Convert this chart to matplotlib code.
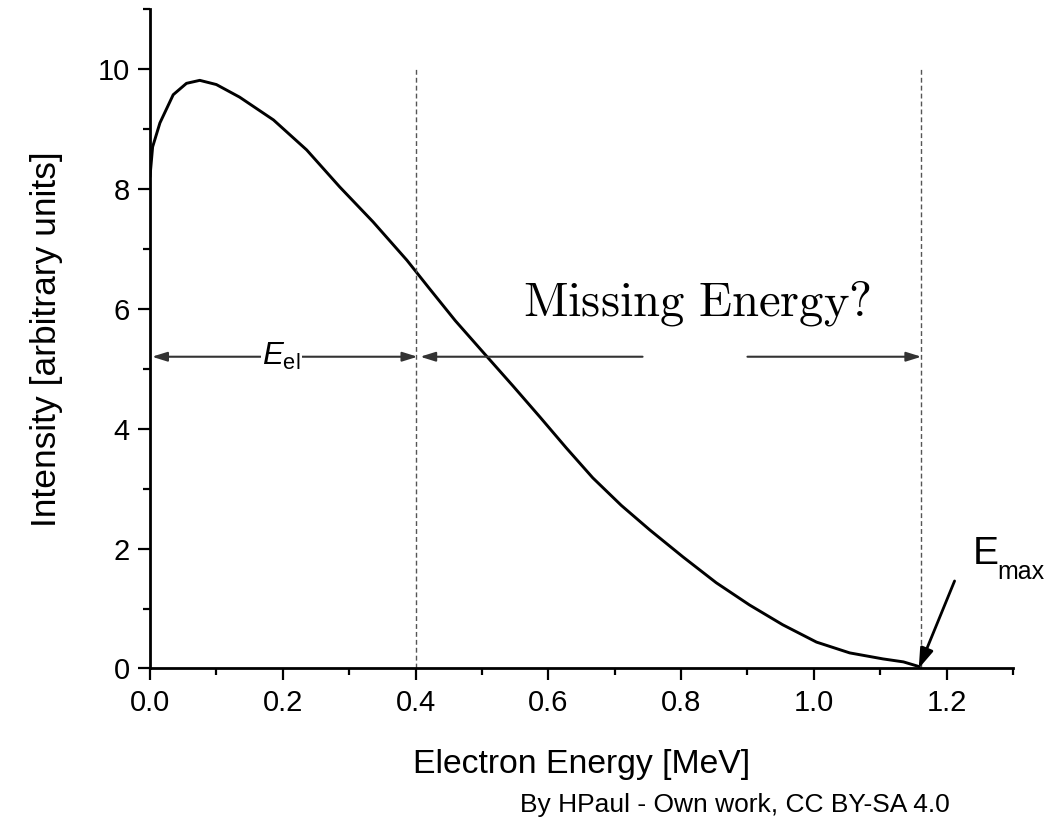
import matplotlib
matplotlib.use("Agg")
from matplotlib import pyplot as plt
from matplotlib.ticker import MultipleLocator
import numpy as np

plt.rcParams['font.family'] = ['Liberation Sans', 'DejaVu Sans']
plt.rcParams['mathtext.fontset'] = 'custom'
plt.rcParams['mathtext.rm'] = 'Liberation Sans'
plt.rcParams['mathtext.it'] = 'Liberation Sans:italic'

# spectrum
energy = [0.0, 0.004, 0.015, 0.035, 0.055, 0.075, 0.1, 0.135, 0.186, 0.236,
          0.286, 0.336, 0.387, 0.42, 0.46, 0.507, 0.547, 0.587, 0.627, 0.667,
          0.71, 0.753, 0.803, 0.853, 0.903, 0.953, 1.004, 1.054, 1.104,
          1.135, 1.159]
intensity = [8.20, 8.70, 9.10, 9.57, 9.76, 9.81, 9.74, 9.53, 9.15, 8.65,
             8.03, 7.45, 6.81, 6.35, 5.80, 5.21, 4.71, 4.20, 3.68, 3.18,
             2.72, 2.31, 1.86, 1.43, 1.06, 0.73, 0.44, 0.26, 0.16,
             0.11, 0.03]

e_el = 0.4
e_max = 1.162
arrow_y = 5.2
gap = [0.742, 0.900]

fig = plt.figure(figsize=(10.48, 8.26), dpi=100)
ax = fig.add_axes([0.1431, 0.1907, 0.8235, 0.7984])

ax.plot(energy, intensity, color='black', lw=2.1, solid_joinstyle='round',
        solid_capstyle='round')

for xv in (e_el, e_max):
    ax.plot([xv, xv], [0, 10], color='#555555', lw=1.0,
            linestyle=(0, (3.5, 2.2)))

head = '<|-|>,head_length=0.45,head_width=0.14'
one = '-|>,head_length=0.45,head_width=0.14'
ap = dict(color='#333333', lw=1.5, mutation_scale=20, shrinkA=0, shrinkB=0)
ax.annotate('', xy=(0.003, arrow_y), xytext=(e_el + 0.003, arrow_y),
            arrowprops=dict(arrowstyle=head, **ap))
ax.annotate('', xy=(e_el + 0.007, arrow_y), xytext=(gap[0], arrow_y),
            arrowprops=dict(arrowstyle=one, **ap))
ax.annotate('', xy=(e_max, arrow_y), xytext=(gap[1], arrow_y),
            arrowprops=dict(arrowstyle=one, **ap))

ax.text(0.198, arrow_y, r'$\mathit{E}_{\mathrm{el}}$', fontsize=22.5,
        ha='center', va='center',
        bbox=dict(facecolor='white', edgecolor='none', pad=1))

ax.text(0.824, 5.88, r'$\mathrm{Missing\ Energy?}$', fontsize=35,
        ha='center', va='baseline', math_fontfamily='cm')

ax.annotate('', xy=(e_max - 0.004, 0.0), xytext=(1.212, 1.46),
            arrowprops=dict(arrowstyle='-|>,head_length=0.6,head_width=0.2',
                            color='black', lw=2.0, mutation_scale=20,
                            shrinkA=0, shrinkB=0))
ax.text(1.240, 1.75, 'E', fontsize=28, ha='left', va='baseline')
ax.text(1.276, 1.50, 'max', fontsize=18, ha='left', va='baseline')

ax.set_xlim(0, 1.3)
ax.set_ylim(0, 11)
ax.xaxis.set_major_locator(MultipleLocator(0.2))
ax.xaxis.set_minor_locator(MultipleLocator(0.1))
ax.yaxis.set_major_locator(MultipleLocator(2))
ax.yaxis.set_minor_locator(MultipleLocator(1))
ax.set_xticks([0.0, 0.2, 0.4, 0.6, 0.8, 1.0, 1.2])
ax.set_xticklabels(['0.0', '0.2', '0.4', '0.6', '0.8', '1.0', '1.2'])

for s in ('top', 'right'):
    ax.spines[s].set_visible(False)
for s in ('left', 'bottom'):
    ax.spines[s].set_linewidth(2.0)
ax.tick_params(which='major', direction='out', length=8.5, width=1.6,
               labelsize=21, pad=6)
ax.tick_params(which='minor', direction='out', length=5, width=1.6)

ax.set_xlabel('Electron Energy [MeV]', fontsize=24.3, labelpad=23)
ax.set_ylabel('Intensity [arbitrary units]', fontsize=25.5, labelpad=25)

fig.text(0.701, 0.017, 'By HPaul - Own work, CC BY-SA 4.0', fontsize=19,
         ha='center', va='baseline')

fig.savefig('out.png', dpi=100, facecolor='white')
